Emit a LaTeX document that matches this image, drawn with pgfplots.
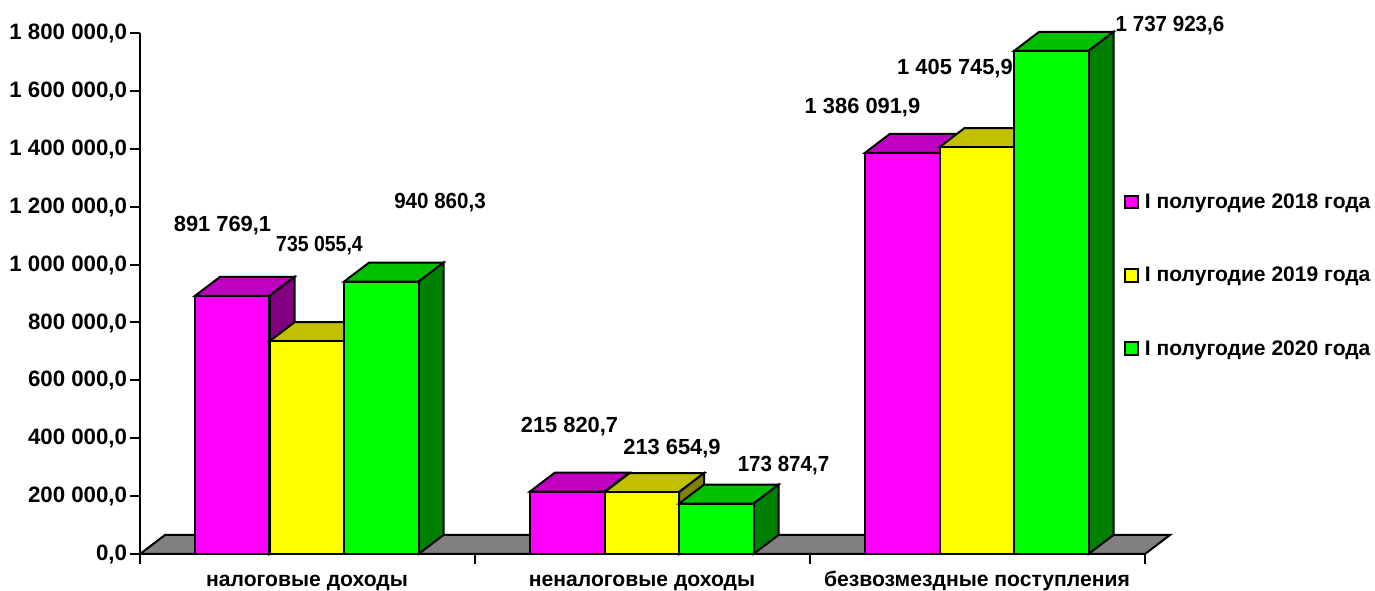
\documentclass[border=0pt]{standalone}
\usepackage{fontspec}
\setmainfont{Liberation Sans}
\usepackage{pgfplots}
\pgfplotsset{compat=1.18}
\definecolor{cmag}{HTML}{FF00FF}\definecolor{cmagt}{HTML}{C000C0}\definecolor{cmags}{HTML}{800080}
\definecolor{cyel}{HTML}{FFFF00}\definecolor{cyelt}{HTML}{C0C000}\definecolor{cyels}{HTML}{808000}
\definecolor{cgre}{HTML}{00FF00}\definecolor{cgret}{HTML}{00C000}\definecolor{cgres}{HTML}{008000}
\definecolor{cfloor}{HTML}{808080}
\newcommand{\lab}[4]{\node[font=\fontsize{16.4pt}{17pt}\selectfont\bfseries,inner sep=0pt,xscale=#1,transform shape] at (axis cs:#2,#3) {#4};}
\begin{document}
\begin{tikzpicture}[x=0.75pt,y=0.75pt]
\path[use as bounding box] (-140,-37) rectangle (1235,554);
\begin{axis}[
  at={(0,0)},anchor=south west,
  scale only axis,width=753.75pt,height=390.75pt,
  xmin=140,xmax=1145,ymin=0,ymax=1800000,clip=false,
  axis x line=bottom,axis y line=left,axis line style={-,line width=1.5pt,black},
  tick style={line width=1.5pt,black},major tick length=7.5pt,tick align=outside,
  xtick={140,475,810,1145},xticklabels={,,,},
  extra x ticks={307,642,977},
  extra x tick labels={налоговые доходы,неналоговые доходы,безвозмездные поступления},
  extra x tick style={major tick length=0pt,tick label style={yshift=-13pt}},
  ytick={0,200000,400000,600000,800000,1000000,1200000,1400000,1600000,1800000},
  scaled y ticks=false,
  y tick label style={/pgf/number format/assume math mode=true,/pgf/number format/fixed,/pgf/number format/fixed zerofill,/pgf/number format/precision=1,/pgf/number format/use comma,/pgf/number format/1000 sep={\ },font=\fontsize{16.7pt}{18pt}\selectfont\bfseries,inner sep=2pt,yshift=-0.4pt},
  x tick label style={font=\fontsize{15.85pt}{18pt}\selectfont\bfseries,text height=11.5pt,text depth=3.2pt,inner sep=0pt},
  legend style={draw=none,fill=none,at={(axis cs:1124,1245000)},anchor=north west,
    row sep=42.5pt,inner sep=0pt,
    font=\fontsize{15.8pt}{18pt}\selectfont\bfseries,
    nodes={inner sep=0pt,anchor=west}},
  legend cell align=left,
  legend image code/.code={\draw[#1,line width=1.4pt] (0,-4.6pt) rectangle (9.6pt,5pt);},
]
% floor
\addplot[draw=black,fill=cfloor,line width=1.5pt,no marks,forget plot] coordinates {(140,0) (165,65643) (1170,65643) (1145,0)} -- cycle;

% 2018: tops, sides, fronts
\addplot[draw=black,fill=cmagt,line width=1.5pt,no marks,forget plot] coordinates {(195,891769.1) (220,957412.1) (294.5,957412.1) (269.5,891769.1)} -- cycle;
\addplot[draw=black,fill=cmags,line width=1.5pt,no marks,forget plot] coordinates {(269.5,891769.1) (294.5,957412.1) (294.5,65643) (269.5,0)} -- cycle;
\addplot[draw=black,fill=cmagt,line width=1.5pt,no marks,forget plot] coordinates {(530,215820.7) (555,281463.7) (629.5,281463.7) (604.5,215820.7)} -- cycle;
\addplot[draw=black,fill=cmagt,line width=1.5pt,no marks,forget plot] coordinates {(865,1386091.9) (890,1451734.9) (964.5,1451734.9) (939.5,1386091.9)} -- cycle;
\addplot[ybar,bar width=74.5,bar shift=0pt,draw=black,fill=cmag,line width=1.5pt,forget plot] coordinates {(232.25,891769.1) (567.25,215820.7) (902.25,1386091.9)};

% 2019
\addplot[draw=black,fill=cyelt,line width=1.5pt,no marks,forget plot] coordinates {(269.5,735055.4) (294.5,800698.4) (369,800698.4) (344,735055.4)} -- cycle;
\addplot[draw=black,fill=cyelt,line width=1.5pt,no marks,forget plot] coordinates {(604.5,213654.9) (629.5,279297.9) (704,279297.9) (679,213654.9)} -- cycle;
\addplot[draw=black,fill=cyels,line width=1.5pt,no marks,forget plot] coordinates {(679,213654.9) (704,279297.9) (704,65643) (679,0)} -- cycle;
\addplot[draw=black,fill=cyelt,line width=1.5pt,no marks,forget plot] coordinates {(939.5,1405745.9) (964.5,1471388.9) (1039,1471388.9) (1014,1405745.9)} -- cycle;
\addplot[ybar,bar width=74.5,bar shift=0pt,draw=black,fill=cyel,line width=1.5pt,forget plot] coordinates {(306.75,735055.4) (641.75,213654.9) (976.75,1405745.9)};

% 2020
\addplot[draw=black,fill=cgret,line width=1.5pt,no marks,forget plot] coordinates {(344,940860.3) (369,1006503.3) (443.5,1006503.3) (418.5,940860.3)} -- cycle;
\addplot[draw=black,fill=cgres,line width=1.5pt,no marks,forget plot] coordinates {(418.5,940860.3) (443.5,1006503.3) (443.5,65643) (418.5,0)} -- cycle;
\addplot[draw=black,fill=cgret,line width=1.5pt,no marks,forget plot] coordinates {(679,173874.7) (704,239517.7) (778.5,239517.7) (753.5,173874.7)} -- cycle;
\addplot[draw=black,fill=cgres,line width=1.5pt,no marks,forget plot] coordinates {(753.5,173874.7) (778.5,239517.7) (778.5,65643) (753.5,0)} -- cycle;
\addplot[draw=black,fill=cgret,line width=1.5pt,no marks,forget plot] coordinates {(1014,1737923.6) (1039,1803566.6) (1113.5,1803566.6) (1088.5,1737923.6)} -- cycle;
\addplot[draw=black,fill=cgres,line width=1.5pt,no marks,forget plot] coordinates {(1088.5,1737923.6) (1113.5,1803566.6) (1113.5,65643) (1088.5,0)} -- cycle;
\addplot[ybar,bar width=74.5,bar shift=0pt,draw=black,fill=cgre,line width=1.5pt,forget plot] coordinates {(381.25,940860.3) (716.25,173874.7) (1051.25,1737923.6)};

\addlegendimage{draw=black,fill=cmag}\addlegendentry{\hspace*{4.5pt}I полугодие 2018 года}
\addlegendimage{draw=black,fill=cyel}\addlegendentry{\hspace*{4.5pt}I полугодие 2019 года}
\addlegendimage{draw=black,fill=cgre}\addlegendentry{\hspace*{4.5pt}I полугодие 2020 года}

\lab{1}{222.5}{1133207}{891 769,1}
\lab{0.89}{319.5}{1064109}{735 055,4}
\lab{0.94}{440}{1212670}{940 860,3}
\lab{1}{569.5}{438772}{215 820,7}
\lab{1}{672}{362764}{213 654,9}
\lab{0.94}{783.5}{304031}{173 874,7}
\lab{1}{862.5}{1540885}{1 386 091,9}
\lab{1}{955}{1675626}{1 405 745,9}
\lab{0.94}{1170}{1824187}{1 737 923,6}
\end{axis}
\end{tikzpicture}
\end{document}
